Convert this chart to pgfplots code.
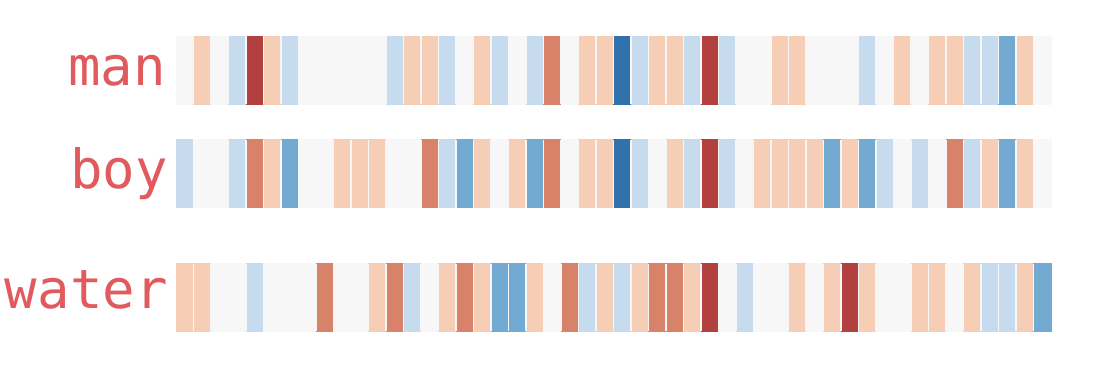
\documentclass[border=0pt]{standalone}
\usepackage{fontspec}
\usepackage{pgfplots}
\pgfplotsset{compat=1.18}
\newfontfamily\dejamono{DejaVu Sans Mono}
\definecolor{labelred}{RGB}{224,90,94}
\definecolor{sepgray}{RGB}{247,247,247}
\begin{document}
\begin{tikzpicture}
\begin{axis}[
  scale only axis, width=558.5pt, height=188.5pt,
  xmin=-10.057, xmax=53.771, ymin=0, ymax=377, y dir=reverse,
  axis line style={draw=none}, major tick length=0pt,
  xtick=\empty, ytick=\empty,
  clip=false,
  colormap={rdbu}{rgb255=(49,113,174) rgb255=(115,170,209) rgb255=(198,219,237) rgb255=(247,247,247) rgb255=(246,205,181) rgb255=(217,130,106) rgb255=(178,64,62)},
  point meta min=-3, point meta max=3,
]
% man
\addplot[surf, shader=flat corner, mesh/cols=51, point meta=explicit] table[x=x, y=y, meta=c, row sep=\\] {
x y c\\
0 36 0\\ 1 36 1\\ 2 36 0\\ 3 36 -1\\ 4 36 3\\ 5 36 1\\ 6 36 -1\\ 7 36 0\\ 8 36 0\\ 9 36 0\\
10 36 0\\ 11 36 0\\ 12 36 -1\\ 13 36 1\\ 14 36 1\\ 15 36 -1\\ 16 36 0\\ 17 36 1\\ 18 36 -1\\ 19 36 0\\
20 36 -1\\ 21 36 2\\ 22 36 0\\ 23 36 1\\ 24 36 1\\ 25 36 -3\\ 26 36 -1\\ 27 36 1\\ 28 36 1\\ 29 36 -1\\
30 36 3\\ 31 36 -1\\ 32 36 0\\ 33 36 0\\ 34 36 1\\ 35 36 1\\ 36 36 0\\ 37 36 0\\ 38 36 0\\ 39 36 -1\\
40 36 0\\ 41 36 1\\ 42 36 0\\ 43 36 1\\ 44 36 1\\ 45 36 -1\\ 46 36 -1\\ 47 36 -2\\ 48 36 1\\ 49 36 0\\ 50 36 0\\
0 104 0\\ 1 104 1\\ 2 104 0\\ 3 104 -1\\ 4 104 3\\ 5 104 1\\ 6 104 -1\\ 7 104 0\\ 8 104 0\\ 9 104 0\\
10 104 0\\ 11 104 0\\ 12 104 -1\\ 13 104 1\\ 14 104 1\\ 15 104 -1\\ 16 104 0\\ 17 104 1\\ 18 104 -1\\ 19 104 0\\
20 104 -1\\ 21 104 2\\ 22 104 0\\ 23 104 1\\ 24 104 1\\ 25 104 -3\\ 26 104 -1\\ 27 104 1\\ 28 104 1\\ 29 104 -1\\
30 104 3\\ 31 104 -1\\ 32 104 0\\ 33 104 0\\ 34 104 1\\ 35 104 1\\ 36 104 0\\ 37 104 0\\ 38 104 0\\ 39 104 -1\\
40 104 0\\ 41 104 1\\ 42 104 0\\ 43 104 1\\ 44 104 1\\ 45 104 -1\\ 46 104 -1\\ 47 104 -2\\ 48 104 1\\ 49 104 0\\ 50 104 0\\
};
% boy
\addplot[surf, shader=flat corner, mesh/cols=51, point meta=explicit] table[x=x, y=y, meta=c, row sep=\\] {
x y c\\
0 139.5 -1\\ 1 139.5 0\\ 2 139.5 0\\ 3 139.5 -1\\ 4 139.5 2\\ 5 139.5 1\\ 6 139.5 -2\\ 7 139.5 0\\ 8 139.5 0\\ 9 139.5 1\\
10 139.5 1\\ 11 139.5 1\\ 12 139.5 0\\ 13 139.5 0\\ 14 139.5 2\\ 15 139.5 -1\\ 16 139.5 -2\\ 17 139.5 1\\ 18 139.5 0\\ 19 139.5 1\\
20 139.5 -2\\ 21 139.5 2\\ 22 139.5 0\\ 23 139.5 1\\ 24 139.5 1\\ 25 139.5 -3\\ 26 139.5 -1\\ 27 139.5 0\\ 28 139.5 1\\ 29 139.5 -1\\
30 139.5 3\\ 31 139.5 -1\\ 32 139.5 0\\ 33 139.5 1\\ 34 139.5 1\\ 35 139.5 1\\ 36 139.5 1\\ 37 139.5 -2\\ 38 139.5 1\\ 39 139.5 -2\\
40 139.5 -1\\ 41 139.5 0\\ 42 139.5 -1\\ 43 139.5 0\\ 44 139.5 2\\ 45 139.5 -1\\ 46 139.5 1\\ 47 139.5 -2\\ 48 139.5 1\\ 49 139.5 0\\ 50 139.5 0\\
0 207.5 -1\\ 1 207.5 0\\ 2 207.5 0\\ 3 207.5 -1\\ 4 207.5 2\\ 5 207.5 1\\ 6 207.5 -2\\ 7 207.5 0\\ 8 207.5 0\\ 9 207.5 1\\
10 207.5 1\\ 11 207.5 1\\ 12 207.5 0\\ 13 207.5 0\\ 14 207.5 2\\ 15 207.5 -1\\ 16 207.5 -2\\ 17 207.5 1\\ 18 207.5 0\\ 19 207.5 1\\
20 207.5 -2\\ 21 207.5 2\\ 22 207.5 0\\ 23 207.5 1\\ 24 207.5 1\\ 25 207.5 -3\\ 26 207.5 -1\\ 27 207.5 0\\ 28 207.5 1\\ 29 207.5 -1\\
30 207.5 3\\ 31 207.5 -1\\ 32 207.5 0\\ 33 207.5 1\\ 34 207.5 1\\ 35 207.5 1\\ 36 207.5 1\\ 37 207.5 -2\\ 38 207.5 1\\ 39 207.5 -2\\
40 207.5 -1\\ 41 207.5 0\\ 42 207.5 -1\\ 43 207.5 0\\ 44 207.5 2\\ 45 207.5 -1\\ 46 207.5 1\\ 47 207.5 -2\\ 48 207.5 1\\ 49 207.5 0\\ 50 207.5 0\\
};
% water
\addplot[surf, shader=flat corner, mesh/cols=51, point meta=explicit] table[x=x, y=y, meta=c, row sep=\\] {
x y c\\
0 263.5 1\\ 1 263.5 1\\ 2 263.5 0\\ 3 263.5 0\\ 4 263.5 -1\\ 5 263.5 0\\ 6 263.5 0\\ 7 263.5 0\\ 8 263.5 2\\ 9 263.5 0\\
10 263.5 0\\ 11 263.5 1\\ 12 263.5 2\\ 13 263.5 -1\\ 14 263.5 0\\ 15 263.5 1\\ 16 263.5 2\\ 17 263.5 1\\ 18 263.5 -2\\ 19 263.5 -2\\
20 263.5 1\\ 21 263.5 0\\ 22 263.5 2\\ 23 263.5 -1\\ 24 263.5 1\\ 25 263.5 -1\\ 26 263.5 1\\ 27 263.5 2\\ 28 263.5 2\\ 29 263.5 1\\
30 263.5 3\\ 31 263.5 0\\ 32 263.5 -1\\ 33 263.5 0\\ 34 263.5 0\\ 35 263.5 1\\ 36 263.5 0\\ 37 263.5 1\\ 38 263.5 3\\ 39 263.5 1\\
40 263.5 0\\ 41 263.5 0\\ 42 263.5 1\\ 43 263.5 1\\ 44 263.5 0\\ 45 263.5 1\\ 46 263.5 -1\\ 47 263.5 -1\\ 48 263.5 1\\ 49 263.5 -2\\ 50 263.5 0\\
0 331 1\\ 1 331 1\\ 2 331 0\\ 3 331 0\\ 4 331 -1\\ 5 331 0\\ 6 331 0\\ 7 331 0\\ 8 331 2\\ 9 331 0\\
10 331 0\\ 11 331 1\\ 12 331 2\\ 13 331 -1\\ 14 331 0\\ 15 331 1\\ 16 331 2\\ 17 331 1\\ 18 331 -2\\ 19 331 -2\\
20 331 1\\ 21 331 0\\ 22 331 2\\ 23 331 -1\\ 24 331 1\\ 25 331 -1\\ 26 331 1\\ 27 331 2\\ 28 331 2\\ 29 331 1\\
30 331 3\\ 31 331 0\\ 32 331 -1\\ 33 331 0\\ 34 331 0\\ 35 331 1\\ 36 331 0\\ 37 331 1\\ 38 331 3\\ 39 331 1\\
40 331 0\\ 41 331 0\\ 42 331 1\\ 43 331 1\\ 44 331 0\\ 45 331 1\\ 46 331 -1\\ 47 331 -1\\ 48 331 1\\ 49 331 -2\\ 50 331 0\\
};
% thin light separators between cells, only inside the rows
\pgfplotsinvokeforeach{1,...,49}{
  \draw[sepgray, line width=0.7pt] (axis cs:#1,36) -- (axis cs:#1,104);
  \draw[sepgray, line width=0.7pt] (axis cs:#1,139.5) -- (axis cs:#1,207.5);
  \draw[sepgray, line width=0.7pt] (axis cs:#1,263.5) -- (axis cs:#1,331);
}
\node[anchor=base east, inner sep=0pt, text=labelred, font=\dejamono\fontsize{27}{30}\selectfont] at (axis cs:-0.55,85) {man};
\node[anchor=base east, inner sep=0pt, text=labelred, font=\dejamono\fontsize{27}{30}\selectfont] at (axis cs:-0.46,188) {boy};
\node[anchor=base east, inner sep=0pt, text=labelred, font=\dejamono\fontsize{27}{30}\selectfont] at (axis cs:-0.46,308) {water};
\path (rel axis cs:0,0) rectangle (rel axis cs:1,1);
\end{axis}
\end{tikzpicture}
\end{document}
